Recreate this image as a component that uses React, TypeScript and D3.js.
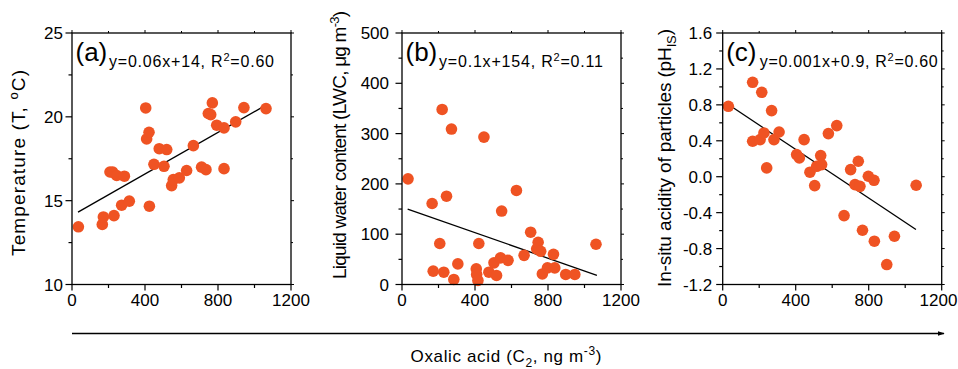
import React from "react";
import * as d3 from "d3";

// ---------- data ----------
const tempX = [35, 166, 172, 230, 208, 223, 245, 287, 272, 314, 404, 409, 422, 424, 449, 478, 519, 504, 546, 555, 588, 628, 665, 710, 734, 747, 760, 769, 793, 833, 833, 897, 942, 1063];
const tempY = [13.44, 13.58, 14.03, 14.11, 16.71, 16.7, 16.5, 16.46, 14.73, 14.97, 20.53, 18.68, 19.08, 14.67, 17.17, 18.1, 18.05, 17.05, 15.9, 16.26, 16.36, 16.8, 18.28, 17.0, 16.85, 20.2, 20.13, 20.83, 19.5, 19.34, 16.91, 19.7, 20.55, 20.49];

const lwcX = [33, 165, 171, 207, 220, 229, 244, 271, 284, 306, 407, 409, 416, 421, 449, 476, 504, 518, 540, 546, 581, 627, 669, 705, 738, 746, 760, 769, 797, 830, 837, 897, 947, 1063];
const lwcY = [210, 161, 26.5, 81.5, 348, 24.5, 175.5, 309, 10, 41, 31, 20, 8, 81.5, 293, 24.5, 43, 18, 53, 146, 48, 187, 58, 104, 71, 84, 66, 21, 33, 60, 33, 20, 20, 80];

const phX = [31, 164, 164, 214, 205, 226, 241, 268, 281, 309, 405, 420, 446, 478, 504, 515, 537, 542, 579, 625, 665, 701, 725, 743, 752, 766, 798, 829, 831, 899, 941, 1060];
const phY = [0.784, 1.051, 0.395, 0.94, 0.413, 0.487, 0.098, 0.736, 0.413, 0.498, 0.246, 0.209, 0.413, 0.05, -0.099, 0.116, 0.235, 0.135, 0.48, 0.569, -0.433, 0.079, -0.088, 0.172, -0.107, -0.596, 0.005, -0.04, -0.718, -0.978, -0.663, -0.095];

const fitSlope = [0.0062, -0.1273, -0.001353];
const fitIntercept = [14.11, 154, 0.845];
const fitRange = [[33, 1067], [31, 1068], [31, 1059]];

const panelLetters = ["(a)", "(b)", "(c)"];
const eqMain = ["y=0.06x+14, R", "y=0.1x+154, R", "y=0.001x+0.9, R"];
const eqTail = ["=0.60", "=0.11", "=0.60"];
const xTicks = [0, 400, 800, 1200];
const xMinor = [200, 600, 1000];
const yDomains = [[10, 25], [0, 500], [-1.2, 1.6]];
const yTicksA = [10, 15, 20, 25];
const yMinorA = [12.5, 17.5, 22.5];
const yTicksB = [0, 100, 200, 300, 400, 500];
const yMinorB = [50, 150, 250, 350, 450];
const yTicksC = [-1.2, -0.8, -0.4, 0, 0.4, 0.8, 1.2, 1.6];
const yMinorC = [-1.0, -0.6, -0.2, 0.2, 0.6, 1.0, 1.4];

// ---------- layout ----------
const FONT = "'Liberation Sans', Arial, Helvetica, sans-serif";
const DOT = "#EF5323";
const TOP = 33;
const BOT = 284.5;
const panelLefts = [72, 402, 722.7];
const PW = 219;
const eqLengths = [165, 164, 178];

type PanelProps = {
  idx: number;
  xs: number[];
  ys: number[];
  yTicks: number[];
  yMinor: number[];
  fmt: (v: number) => string;
  labelGap: number;
};

function Panel({ idx, xs, ys, yTicks, yMinor, fmt, labelGap }: PanelProps) {
  const left = panelLefts[idx];
  const right = left + PW;
  const x = d3.scaleLinear().domain([0, 1200]).range([left, right]);
  const y = d3.scaleLinear().domain(yDomains[idx]).range([BOT, TOP]);
  const [r0, r1] = fitRange[idx];
  const line = d3.line<number>()
    .x((v) => x(v))
    .y((v) => y(fitSlope[idx] * v + fitIntercept[idx]));
  return (
    <g>
      <path d={line([r0, r1]) || ""} stroke="#000" strokeWidth={1.3} fill="none" />
      {xs.map((v, i) => (
        <circle key={i} cx={x(v)} cy={y(ys[i])} r={5.8} fill={DOT} />
      ))}
      <rect x={left} y={TOP} width={PW} height={BOT - TOP} fill="none" stroke="#000" strokeWidth={1.3} />
      {xTicks.map((t) => {
        const tx = Math.min(x(t), 957 - 18.5);
        return (
          <g key={"xt" + t}>
            <line x1={x(t)} x2={x(t)} y1={BOT} y2={BOT + 6} stroke="#000" strokeWidth={1.2} />
            <line x1={x(t)} x2={x(t)} y1={TOP} y2={TOP - 3} stroke="#000" strokeWidth={1} />
            <text x={tx} y={306} textAnchor="middle" fontSize={17} fontFamily={FONT}>{t}</text>
          </g>
        );
      })}
      {xMinor.map((t) => (
        <g key={"xm" + t}>
          <line x1={x(t)} x2={x(t)} y1={BOT} y2={BOT + 3.5} stroke="#000" strokeWidth={1.2} />
          <line x1={x(t)} x2={x(t)} y1={TOP} y2={TOP - 2} stroke="#000" strokeWidth={1} />
        </g>
      ))}
      {yTicks.map((t) => (
        <g key={"yt" + t}>
          <line x1={left} x2={left - 6.5} y1={y(t)} y2={y(t)} stroke="#000" strokeWidth={1.2} />
          <line x1={right} x2={right + 3} y1={y(t)} y2={y(t)} stroke="#000" strokeWidth={1} />
          <text x={left - labelGap} y={y(t) + 6} textAnchor="end" fontSize={17} fontFamily={FONT}>{fmt(t)}</text>
        </g>
      ))}
      {yMinor.map((t) => (
        <g key={"ym" + t}>
          <line x1={left} x2={left - 3.5} y1={y(t)} y2={y(t)} stroke="#000" strokeWidth={1.2} />
          <line x1={right} x2={right + 2} y1={y(t)} y2={y(t)} stroke="#000" strokeWidth={1} />
        </g>
      ))}
      <text x={left + 3.5} y={61} fontSize={26} fontFamily={FONT}>{panelLetters[idx]}</text>
      <text x={left + 37} y={66.5} fontSize={16} fontFamily={FONT} textLength={eqLengths[idx]} lengthAdjust="spacing">
        {eqMain[idx]}
        <tspan fontSize={11} dy={-6}>2</tspan>
        <tspan dy={6}>{eqTail[idx]}</tspan>
      </text>
    </g>
  );
}

export default function App() {
  const fmtInt = (v: number) => String(v);
  const fmtC = (v: number) => d3.format(".1f")(v).replace("\u2212", "-");
  return (
    <svg width={958} height={369} style={{ position: "absolute", left: 0, top: 0, background: "#fff" }}>
      <defs>
        <marker id="arr" viewBox="0 0 10 10" refX={9} refY={5} markerWidth={7} markerHeight={7} orient="auto" markerUnits="userSpaceOnUse">
          <path d="M0,1.5 L10,5 L0,8.5 Z" fill="#000" />
        </marker>
      </defs>
      <rect width={958} height={369} fill="#fff" />
      <Panel idx={0} xs={tempX} ys={tempY} yTicks={yTicksA} yMinor={yMinorA} fmt={fmtInt} labelGap={9} />
      <Panel idx={1} xs={lwcX} ys={lwcY} yTicks={yTicksB} yMinor={yMinorB} fmt={fmtInt} labelGap={13} />
      <Panel idx={2} xs={phX} ys={phY} yTicks={yTicksC} yMinor={yMinorC} fmt={fmtC} labelGap={10.5} />

      <text transform="translate(25,163) rotate(-90)" textAnchor="middle" fontSize={19} fontFamily={FONT} textLength={186} lengthAdjust="spacing">
        Temperature (T, <tspan fontSize={13} dy={-7}>o</tspan><tspan dy={7}>C)</tspan>
      </text>
      <text transform="translate(346,145) rotate(-90)" textAnchor="middle" fontSize={19} fontFamily={FONT} textLength={268} lengthAdjust="spacing">
        Liquid water content  (LWC, μg m<tspan fontSize={13} dy={-7}>-3</tspan><tspan dy={7}>)</tspan>
      </text>
      <text transform="translate(671,158) rotate(-90)" textAnchor="middle" fontSize={19} fontFamily={FONT} textLength={258} lengthAdjust="spacing">
        In-situ acidity of particles (pH<tspan fontSize={13} dy={5}>IS</tspan><tspan dy={-5}>)</tspan>
      </text>

      <line x1={72} x2={944} y1={333.5} y2={333.5} stroke="#000" strokeWidth={1.3} markerEnd="url(#arr)" />
      <text x={506} y={362} textAnchor="middle" fontSize={17} fontFamily={FONT} textLength={191} lengthAdjust="spacing">
        Oxalic acid (C<tspan fontSize={12} dy={5}>2</tspan><tspan dy={-5}>, ng m</tspan><tspan fontSize={12} dy={-7}>-3</tspan><tspan dy={7}>)</tspan>
      </text>
    </svg>
  );
}
